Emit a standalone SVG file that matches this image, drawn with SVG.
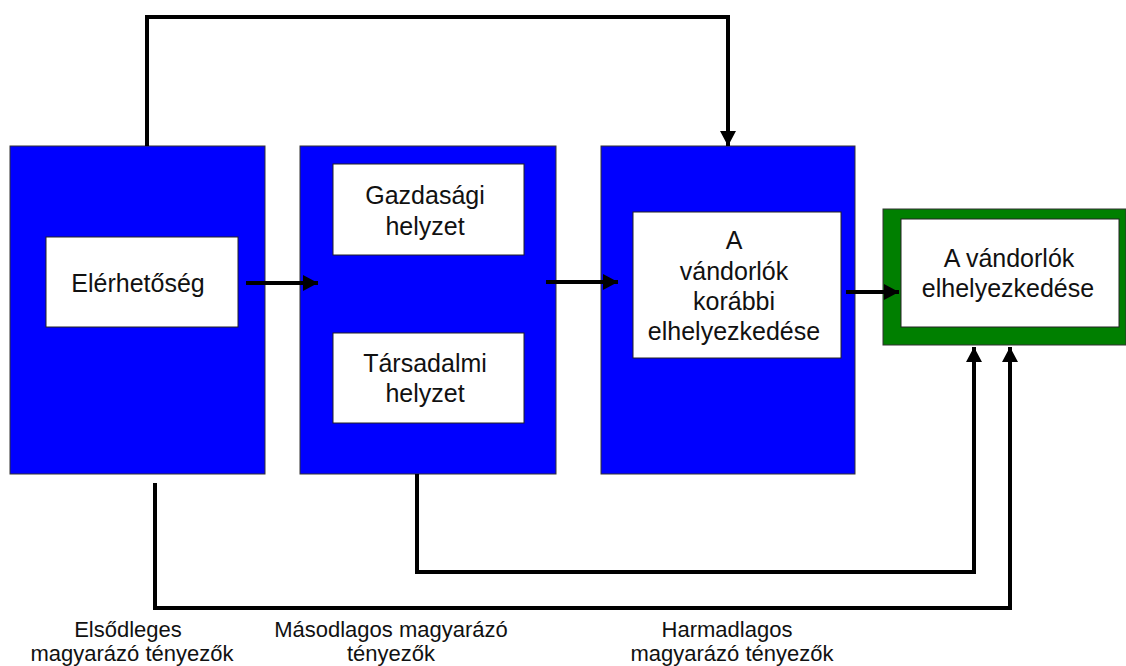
<svg xmlns="http://www.w3.org/2000/svg" width="1126" height="666" viewBox="0 0 1126 666">
<style>
.blue{fill:#0000ff;stroke:#333;stroke-width:1}
.green{fill:#007f00;stroke:#333;stroke-width:1}
.white{fill:#fff;stroke:#222;stroke-width:1}
.t{font-family:"Liberation Sans",Arial,sans-serif;font-size:25px;fill:#111;text-anchor:middle}
.lbl{font-family:"Liberation Sans",Arial,sans-serif;font-size:22px;fill:#111;text-anchor:middle}
.c{fill:none;stroke:#000;stroke-width:4;stroke-linejoin:miter}
</style>
<defs>
<marker id="ah" markerUnits="userSpaceOnUse" markerWidth="16" markerHeight="16" viewBox="0 0 16 16" refX="15" refY="8" orient="auto">
<path d="M0,0 L15,8 L0,16 Z" fill="#000"/>
</marker>
</defs>
<rect width="1126" height="666" fill="#fff"/>
<g id="node-primary">
<rect class="blue" x="10" y="146" width="255" height="328"/>
<rect class="white" x="46" y="237" width="192" height="90"/>
<text class="t" x="138" y="292">Elérhetőség</text>
</g>
<g id="node-secondary">
<rect class="blue" x="300" y="146" width="256" height="328"/>
<rect class="white" x="333" y="164" width="191" height="91"/>
<text class="t" x="425" y="204">Gazdasági</text>
<text class="t" x="425" y="235">helyzet</text>
<rect class="white" x="333" y="333" width="191" height="90"/>
<text class="t" x="425" y="372">Társadalmi</text>
<text class="t" x="425" y="402">helyzet</text>
</g>
<g id="node-tertiary">
<rect class="blue" x="601" y="146" width="254" height="328"/>
<rect class="white" x="633" y="212" width="208" height="146"/>
<text class="t" x="734" y="249">A</text>
<text class="t" x="734" y="280">vándorlók</text>
<text class="t" x="734" y="310">korábbi</text>
<text class="t" x="734" y="340">elhelyezkedése</text>
</g>
<g id="node-result">
<rect class="green" x="883" y="209" width="243" height="136"/>
<rect class="white" x="901" y="219" width="218" height="108"/>
<text class="t" x="1009" y="267">A vándorlók</text>
<text class="t" x="1008" y="297">elhelyezkedése</text>
</g>
<g id="connectors">
<path class="c" d="M246,283 H318" marker-end="url(#ah)"/>
<path class="c" d="M546,282 H618" marker-end="url(#ah)"/>
<path class="c" d="M846,292 H899" marker-end="url(#ah)"/>
<path class="c" d="M147,146 V17 H728 V146" marker-end="url(#ah)"/>
<path class="c" d="M417,474 V572 H974 V347" marker-end="url(#ah)"/>
<path class="c" d="M155,483 V608 H1010 V347" marker-end="url(#ah)"/>
</g>
<g id="labels">
<text class="lbl" x="128" y="637">Elsődleges</text>
<text class="lbl" x="132" y="661">magyarázó tényezők</text>
<text class="lbl" x="391" y="637">Másodlagos magyarázó</text>
<text class="lbl" x="391" y="661">tényezők</text>
<text class="lbl" x="727" y="637">Harmadlagos</text>
<text class="lbl" x="732" y="661">magyarázó tényezők</text>
</g>
</svg>
